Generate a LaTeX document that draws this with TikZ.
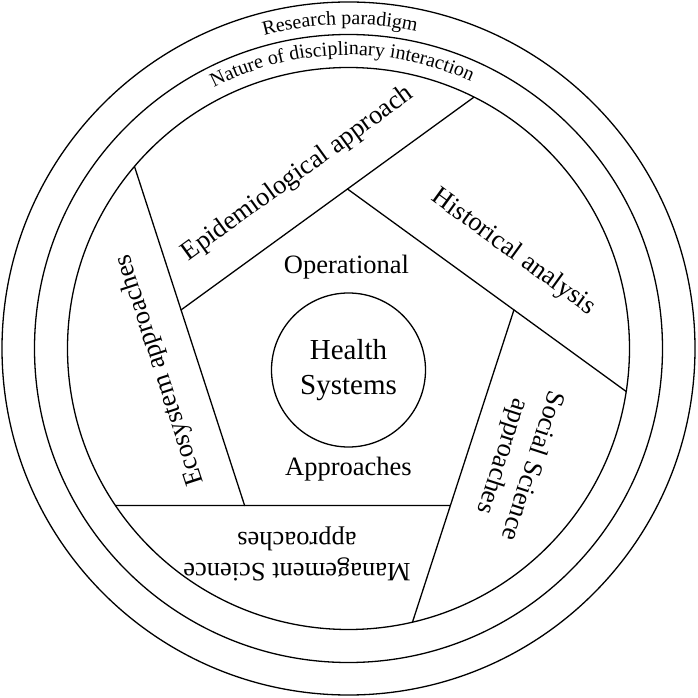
\documentclass[tikz,border=0pt]{standalone}
\usepackage{fontspec}
\setmainfont{Liberation Serif}
\usetikzlibrary{calc,intersections,decorations.text}
\begin{document}
\begin{tikzpicture}[x=1pt,y=1pt,line width=1.3pt,
  seglabel/.style={font=\fontsize{26.5}{31}\selectfont, align=center, inner sep=0pt},
  midlabel/.style={font=\fontsize{26.5}{31}\selectfont, anchor=base, inner sep=0pt}]
\useasboundingbox (-348.5,-349.5) rectangle (349.5,348.5);
% rings
\draw (0,0) circle (346.5);
\draw (0,0) circle (314);
\draw[name path=inner] (0,0) circle (281);
% arc texts
\path[decorate, decoration={text along path, text align=center,
  text={|\fontsize{20}{24}\selectfont|Research paradigm}}]
  (181.5:324) arc[start angle=181.5, end angle=1.5, radius=324];
\path[decorate, decoration={text along path, text align=center,
  text={|\fontsize{20}{24}\selectfont|Nature of disciplinary interaction}}]
  (181.3:293.5) arc[start angle=181.3, end angle=1.3, radius=293.5];
% pentagon
\coordinate (P) at (-1,-15.5);
\coordinate (V1) at ($(P)+(90:175)$);
\coordinate (V2) at ($(P)+(18:175)$);
\coordinate (V3) at ($(P)+(-54:175)$);
\coordinate (V4) at ($(P)+(-126:175)$);
\coordinate (V5) at ($(P)+(162:175)$);
\draw (V1) -- (V2) -- (V3) -- (V4) -- (V5) -- cycle;
\path[name path=ext1] (V5) -- ($(V5)!4!(V1)$);
\path[name path=ext2] (V1) -- ($(V1)!4!(V2)$);
\path[name path=ext3] (V2) -- ($(V2)!4!(V3)$);
\path[name path=ext4] (V3) -- ($(V3)!4!(V4)$);
\path[name path=ext5] (V4) -- ($(V4)!4!(V5)$);
\path[name intersections={of=inner and ext1, by=E1}];
\path[name intersections={of=inner and ext2, by=E2}];
\path[name intersections={of=inner and ext3, by=E3}];
\path[name intersections={of=inner and ext4, by=E4}];
\path[name intersections={of=inner and ext5, by=E5}];
\draw (V1) -- (E1);
\draw (V2) -- (E2);
\draw (V3) -- (E3);
\draw (V4) -- (E4);
\draw (V5) -- (E5);
% centre
\node[circle, draw, minimum size=154pt, inner sep=0pt, align=center,
  font=\fontsize{29}{35}\selectfont] (hs) at (0,-21.5) {Health\\Systems};
\node[midlabel] (op) at (-2,74.5) {Operational};
\node[midlabel] (ap) at (0,-126.5) {Approaches};
% segment labels
\node[seglabel, rotate=36] (epi) at (-50.5,174.5) {Epidemiological approach};
\node[seglabel, rotate=-36] (his) at (165,96) {Historical analysis};
\node[seglabel, rotate=-108] (soc) at (168.5,-112.5) {Social Science\\approaches};
\node[seglabel, rotate=180] (man) at (-51.5,-205.5) {Management Science\\approaches};
\node[seglabel, rotate=108] (eco) at (-188.5,-21.5) {Ecosystem approaches};
\end{tikzpicture}
\end{document}
